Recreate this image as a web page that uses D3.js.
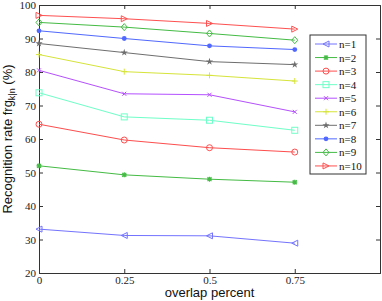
<!DOCTYPE html>
<html>
<head>
<meta charset="utf-8">
<script src="https://cdn.jsdelivr.net/npm/d3@7"></script>
<style>
  body { margin: 0; background: #fff; }
  svg { display: block; }
  .tick text { font-family: "Liberation Serif", serif; font-size: 11px; fill: #222; }
  .lab { font-family: "Liberation Sans", Arial, sans-serif; font-size: 13px; fill: #111; }
  .leg { font-family: "Liberation Serif", serif; font-size: 11px; fill: #111; }
</style>
</head>
<body>
<div id="chart"></div>
<script>
// data
const overlap = [0, 0.25, 0.5, 0.75];
const seriesNames = ["n=1", "n=2", "n=3", "n=4", "n=5", "n=6", "n=7", "n=8", "n=9", "n=10"];
const n1 = [33.1, 31.2, 31.1, 28.9];
const n2 = [52.0, 49.3, 48.0, 47.1];
const n3 = [64.4, 59.7, 57.4, 56.1];
const n4 = [73.8, 66.6, 65.6, 62.6];
const n5 = [80.5, 73.5, 73.2, 68.1];
const n6 = [85.2, 80.1, 79.0, 77.3];
const n7 = [88.5, 85.8, 83.1, 82.2];
const n8 = [92.3, 90.0, 87.8, 86.7];
const n9 = [94.8, 93.4, 91.5, 89.5];
const n10 = [96.9, 95.9, 94.5, 92.8];
const allValues = [n1, n2, n3, n4, n5, n6, n7, n8, n9, n10];
const colors = ["#7373ff", "#44bb44", "#ff4d4d", "#6fffc8", "#b450ff",
                "#d6e43a", "#6e6e6e", "#5068ff", "#44bb44", "#ff5050"];
const markers = ["triLeft", "asterisk", "circle", "square", "cross",
                 "plus", "star", "dot", "diamond", "triRight"];
const yTicks = [20, 30, 40, 50, 60, 70, 80, 90, 100];
const xTicks = [0, 0.25, 0.5, 0.75];

const W = 382, H = 301;
const m = { left: 39, right: 2, top: 5, bottom: 28 };

const svg = d3.select("#chart").append("svg")
    .attr("width", W).attr("height", H);

const x = d3.scaleLinear().domain([0, 1]).range([m.left, W - m.right]);
const y = d3.scaleLinear().domain([20, 100]).range([H - m.bottom, m.top]);

// axes (box with inward ticks)
const axColor = "#333";
const gB = svg.append("g").attr("transform", `translate(0,${y(20)})`)
    .call(d3.axisBottom(x).tickValues(xTicks).tickSize(-4).tickPadding(3)
        .tickFormat(d => d === 0 ? "0" : String(d)));
const gT = svg.append("g").attr("transform", `translate(0,${y(100)})`)
    .call(d3.axisTop(x).tickValues(xTicks).tickSize(-4).tickFormat(""));
const gL = svg.append("g").attr("transform", `translate(${x(0)},0)`)
    .call(d3.axisLeft(y).tickValues(yTicks).tickSize(-4).tickPadding(3));
const gR = svg.append("g").attr("transform", `translate(${x(1)},0)`)
    .call(d3.axisRight(y).tickValues(yTicks).tickSize(-4).tickFormat(""));
[gB, gT, gL, gR].forEach(g => {
    g.select(".domain").attr("stroke", axColor).attr("stroke-width", 1);
    g.selectAll(".tick line").attr("stroke", axColor);
});

// labels
svg.append("text").attr("class", "lab")
    .attr("x", (x(0) + x(1)) / 2).attr("y", H - 4)
    .attr("text-anchor", "middle").text("overlap percent");

const yl = svg.append("text").attr("class", "lab")
    .attr("transform", `translate(12,${(y(20) + y(100)) / 2}) rotate(-90)`)
    .attr("text-anchor", "middle");
yl.append("tspan").text("Recognition rate frg");
yl.append("tspan").attr("font-size", "9px").attr("dy", "3").text("k|n");
yl.append("tspan").attr("dy", "-3").text(" (%)");

function drawMarker(g, type, cx, cy, color) {
    const s = 3;
    if (type === "triLeft") {
        g.append("path").attr("d", `M${cx - s},${cy}L${cx + s},${cy - s}L${cx + s},${cy + s}Z`)
            .attr("fill", "none").attr("stroke", color);
    } else if (type === "triRight") {
        g.append("path").attr("d", `M${cx + s},${cy}L${cx - s},${cy - s}L${cx - s},${cy + s}Z`)
            .attr("fill", "none").attr("stroke", color);
    } else if (type === "circle") {
        g.append("circle").attr("cx", cx).attr("cy", cy).attr("r", s)
            .attr("fill", "none").attr("stroke", color);
    } else if (type === "square") {
        g.append("rect").attr("x", cx - s).attr("y", cy - s).attr("width", 2 * s).attr("height", 2 * s)
            .attr("fill", "none").attr("stroke", color);
    } else if (type === "diamond") {
        g.append("path").attr("d", `M${cx},${cy - s - 0.5}L${cx + s},${cy}L${cx},${cy + s + 0.5}L${cx - s},${cy}Z`)
            .attr("fill", "none").attr("stroke", color);
    } else if (type === "cross") {
        g.append("path").attr("d", `M${cx - 2},${cy - 2}L${cx + 2},${cy + 2}M${cx - 2},${cy + 2}L${cx + 2},${cy - 2}`)
            .attr("stroke", color);
    } else if (type === "plus") {
        g.append("path").attr("d", `M${cx - s},${cy}L${cx + s},${cy}M${cx},${cy - s}L${cx},${cy + s}`)
            .attr("stroke", color);
    } else if (type === "asterisk") {
        g.append("path").attr("d", `M${cx - 2.5},${cy}L${cx + 2.5},${cy}M${cx},${cy - 2.5}L${cx},${cy + 2.5}M${cx - 2},${cy - 2}L${cx + 2},${cy + 2}M${cx - 2},${cy + 2}L${cx + 2},${cy - 2}`)
            .attr("stroke", color).attr("stroke-width", 1.2);
    } else if (type === "star") {
        g.append("path").attr("d", d3.symbol(d3.symbolStar, 16)())
            .attr("transform", `translate(${cx},${cy})`).attr("fill", color);
    } else if (type === "dot") {
        g.append("circle").attr("cx", cx).attr("cy", cy).attr("r", 2.4).attr("fill", color);
    }
}

const line = d3.line().x((d, i) => x(overlap[i])).y(d => y(d));
const plot = svg.append("g");
allValues.forEach((vals, k) => {
    plot.append("path").datum(vals).attr("d", line)
        .attr("fill", "none").attr("stroke", colors[k]).attr("stroke-width", 1);
    vals.forEach((v, i) => drawMarker(plot, markers[k], x(overlap[i]), y(v), colors[k]));
});

// legend
const lx = 310, ly = 35, lw = 56, lh = 139, step = 13.55;
const leg = svg.append("g");
leg.append("rect").attr("x", lx).attr("y", ly).attr("width", lw).attr("height", lh)
    .attr("fill", "#fff").attr("stroke", "#333");
seriesNames.forEach((name, k) => {
    const yy = ly + 9 + k * step;
    leg.append("line").attr("x1", lx + 5).attr("x2", lx + 27).attr("y1", yy).attr("y2", yy)
        .attr("stroke", colors[k]);
    drawMarker(leg, markers[k], lx + 16, yy, colors[k]);
    leg.append("text").attr("class", "leg").attr("x", lx + 29).attr("y", yy + 4).text(name);
});
</script>
</body>
</html>
